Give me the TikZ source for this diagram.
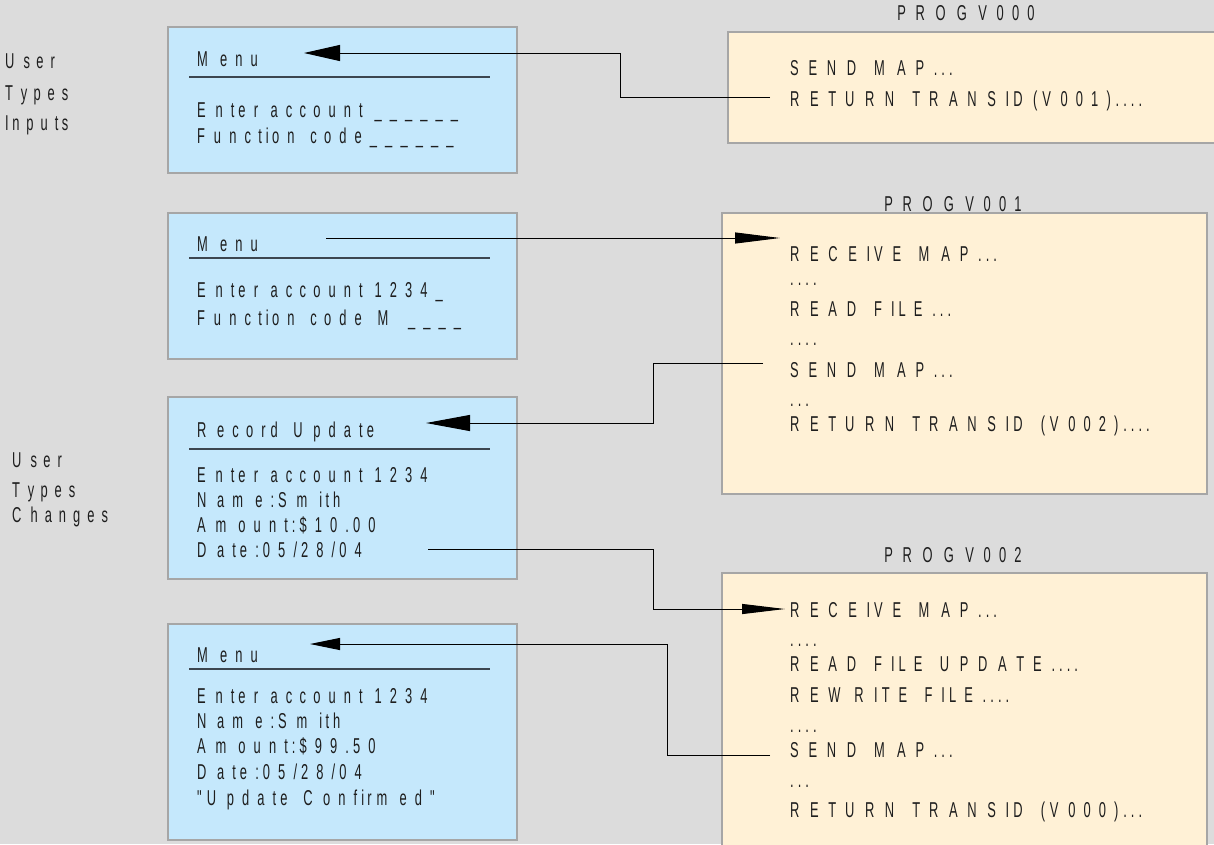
\documentclass[tikz,border=0pt]{standalone}
\usepackage{fontspec}
\usetikzlibrary{arrows.meta}
\newfontfamily\advfontfam{Liberation Sans}
\newfontfamily\glyphfontfam[FakeStretch=0.6]{Liberation Sans}
\newcommand\glyphfont{\glyphfontfam\fontsize{21.5}{25}\selectfont}
\ExplSyntaxOn
\box_new:N \l__rs_box
\NewDocumentCommand \spc { O{27.5} m }
  {
    \str_map_inline:nn { #2 }
      {
        \tl_if_blank:nTF { ##1 }
          { \hbox_to_wd:nn { 0.2778 \dimexpr #1pt \relax } { } }
          {
            \hbox_set:Nn \l__rs_box { \advfontfam \fontsize{#1}{30} \selectfont ##1 }
            \hbox_to_wd:nn { \box_wd:N \l__rs_box } { \glyphfont ##1 \hfil }
          }
      }
  }
\ExplSyntaxOff
\definecolor{bg}{HTML}{DCDCDC}
\definecolor{bluefill}{HTML}{C5E8FC}
\definecolor{creamfill}{HTML}{FFF1D6}
\definecolor{boxline}{HTML}{A6A6A6}
\definecolor{sepline}{HTML}{3C4650}
\definecolor{ink}{HTML}{1E1E1E}
\tikzset{
  txt/.style={inner sep=0pt, anchor=base west, text=ink},
  ttl/.style={inner sep=0pt, anchor=base, text=ink},
  bluebox/.style={fill=bluefill, draw=boxline, line width=1.5pt},
  creambox/.style={fill=creamfill, draw=boxline, line width=1.5pt},
  sep/.style={draw=sepline, line width=1.5pt},
  conn/.style={draw=black, line width=1pt}
}
\begin{document}
\begin{tikzpicture}[x=1pt,y=-1pt]
\useasboundingbox (0,0) rectangle (1214,844);
\fill[bg] (0,0) rectangle (1214,844);

% left labels
\node[txt] (u1a) at (5,68) {\spc[25.5]{User}};
\node[txt] (u1b) at (5,100) {\spc[25.5]{Types}};
\node[txt] (u1c) at (5,130) {\spc[25.5]{Inputs}};
\node[txt] (u2a) at (12,467) {\spc[25.5]{User}};
\node[txt] (u2b) at (12,497) {\spc[25.5]{Types}};
\node[txt] (u2c) at (12,522) {\spc[25.5]{Changes}};

% blue boxes
\path[bluebox] (168,27) rectangle (517,173);
\path[sep] (189,77) -- (490,77);
\node[txt] (m1) at (197,66) {\spc{Menu}};
\node[txt] (m1a) at (197,117) {\spc{Enter account ______}};
\node[txt] (m1b) at (197,143) {\spc{Function code______}};

\path[bluebox] (168,213) rectangle (517,359);
\path[sep] (189,258) -- (490,258);
\node[txt] (m2) at (197,251) {\spc{Menu}};
\node[txt] (m2a) at (197,297) {\spc{Enter account 1234_}};
\node[txt] (m2b) at (197,325) {\spc{Function code M ____}};

\path[bluebox] (168,397) rectangle (517,579);
\path[sep] (189,449) -- (490,449);
\node[txt] (m3) at (197,437) {\spc{Record Update}};
\node[txt] (m3a) at (197,482) {\spc{Enter account 1234}};
\node[txt] (m3b) at (197,507) {\spc{Name:Smith}};
\node[txt] (m3c) at (197,532) {\spc{Amount:$10.00}};
\node[txt] (m3d) at (197,557) {\spc{Date:05/28/04}};

\path[bluebox] (168,624) rectangle (517,840);
\path[sep] (189,669) -- (490,669);
\node[txt] (m4) at (197,662) {\spc{Menu}};
\node[txt] (m4a) at (197,703) {\spc{Enter account 1234}};
\node[txt] (m4b) at (197,728) {\spc{Name:Smith}};
\node[txt] (m4c) at (197,753) {\spc{Amount:$99.50}};
\node[txt] (m4d) at (197,779) {\spc{Date:05/28/04}};
\node[txt] (m4e) at (197,805) {\spc{"Update Confirmed"}};

% cream boxes
\path[creambox] (728,32) rectangle (1218,143);
\node[ttl] (t0) at (970,20) {\spc{PROGV000}};
\node[txt] (p0a) at (790,75) {\spc{SEND MAP...}};
\node[txt] (p0b) at (790,106) {\spc{RETURN TRANSID(V001)....}};

\path[creambox] (722,213) rectangle (1207,494);
\node[ttl] (t1) at (957,211) {\spc{PROGV001}};
\node[txt] (p1a) at (790,261) {\spc{RECEIVE MAP...}};
\node[txt] (p1b) at (790,285) {\spc{....}};
\node[txt] (p1c) at (790,316) {\spc{READ FILE...}};
\node[txt] (p1d) at (790,345) {\spc{....}};
\node[txt] (p1e) at (790,377) {\spc{SEND MAP...}};
\node[txt] (p1f) at (790,406) {\spc{...}};
\node[txt] (p1g) at (790,431) {\spc{RETURN TRANSID (V002)....}};

\path[creambox] (722,573) rectangle (1207,850);
\node[ttl] (t2) at (957,562) {\spc{PROGV002}};
\node[txt] (p2a) at (790,617) {\spc{RECEIVE MAP...}};
\node[txt] (p2b) at (790,646) {\spc{....}};
\node[txt] (p2c) at (790,671) {\spc{READ FILE UPDATE....}};
\node[txt] (p2d) at (790,702) {\spc{REWRITE FILE....}};
\node[txt] (p2e) at (790,732) {\spc{....}};
\node[txt] (p2f) at (790,757) {\spc{SEND MAP...}};
\node[txt] (p2g) at (790,787) {\spc{...}};
\node[txt] (p2h) at (790,817) {\spc{RETURN TRANSID (V000)...}};

% connector end points
\coordinate (c1s) at (770,97);
\coordinate (c1t) at (304,53);
\coordinate (c2s) at (326,238);
\coordinate (c2t) at (780,238);
\coordinate (c3s) at (763,363);
\coordinate (c3t) at (426,423);
\coordinate (c4s) at (428,549);
\coordinate (c4t) at (785,609);
\coordinate (c5s) at (770,755);
\coordinate (c5t) at (310,644);

\draw[conn, -{Triangle[length=36pt,width=16pt]}] (c1s) -- (620,97) |- (c1t);
\draw[conn, -{Triangle[length=45pt,width=11pt]}] (c2s) -- (c2t);
\draw[conn, -{Triangle[length=44pt,width=16pt]}] (c3s) -- (653,363) |- (c3t);
\draw[conn, -{Triangle[length=43pt,width=10pt]}] (c4s) -- (653,549) |- (c4t);
\draw[conn, -{Triangle[length=30pt,width=12pt]}] (c5s) -- (667,755) |- (c5t);
\end{tikzpicture}
\end{document}
